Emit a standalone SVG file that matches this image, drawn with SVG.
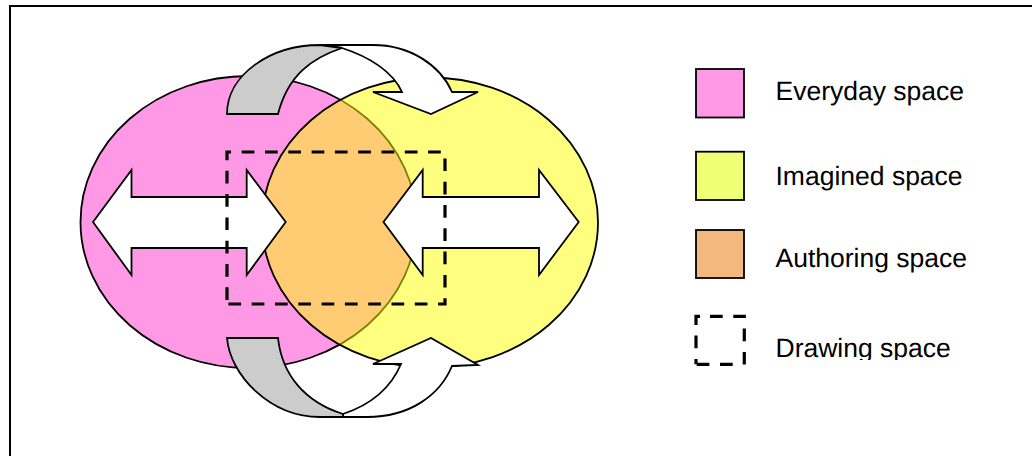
<svg xmlns="http://www.w3.org/2000/svg" width="1032" height="456" viewBox="0 0 1032 456">
<defs>
<style>
.o{stroke:#000;stroke-width:1.8;stroke-linejoin:miter}
.d{fill:none;stroke:#000;stroke-width:3.2;stroke-dasharray:12.7 10.6}
.w{fill:#fff}
.g{fill:#ccc}
text{font-family:"Liberation Sans",Arial,sans-serif;font-size:26.5px;fill:#000;text-rendering:geometricPrecision}
</style>
<clipPath id="legendClip"><rect x="770" y="320" width="220" height="40"/></clipPath>
</defs>
<rect width="1032" height="456" fill="#fff"/>
<path id="frame" d="M10,456V6H1032" fill="none" stroke="#000" stroke-width="2"/>
<g id="everyday"><ellipse class="o" cx="248.500" cy="222" rx="168" ry="146" fill="#FF99E6"/></g>
<g id="imagined"><ellipse class="o" cx="430" cy="222.500" rx="168" ry="145" fill="#FFFF00" fill-opacity=".5"/></g>
<g id="connectors">
<path class="o w" d="M320,45H373C410,45 440,65 452,92H478L431,114L373,92H402C393,72 370,57 342,48Z"/>
<path class="o g" d="M227,114C227,75 270,45 320,45L342,48C312,58 288,75 278,114Z"/>
<path class="o w" d="M343,417H367C410,417 440,395 452,366L478,365L431,338L373,364H401C390,390 370,405 343,414Z"/>
<path class="o g" d="M227,338C230,375 270,417 320,417H343V414C305,402 282,375 278,338Z"/>
<path class="o w" d="M93,222L131.500,170V197H246.700V170L285.700,222L246.700,275V248H131.500V275Z"/>
<path class="o w" d="M383.500,222L422.700,170V197H539V170L578.700,222L539,275V248H422.700V275Z"/>
</g>
<g id="drawing">
<path class="d" d="M241.700,152H445V304H227"/>
<path class="d" d="M227,300V152H231"/>
</g>
<g id="legend-everyday"><rect class="o" x="696" y="69" width="48" height="48.500" fill="#FF99E6"/><text x="775.500" y="100">Everyday space</text></g>
<g id="legend-imagined"><rect class="o" x="696" y="151.700" width="48" height="48.300" fill="#F0FF73"/><text x="775.500" y="185">Imagined space</text></g>
<g id="legend-authoring"><rect class="o" x="696" y="230" width="48" height="48" fill="#F2B87E"/><text x="775.500" y="267">Authoring space</text></g>
<g id="legend-drawing">
<path class="d" d="M710,316.300H744.300V366"/>
<path class="d" d="M732.700,364.300H696"/>
<path d="M696,364.300V359" fill="none" stroke="#000" stroke-width="3.200"/>
<path class="d" d="M696,348.300V316.300H700"/>
<text x="775.500" y="357" clip-path="url(#legendClip)">Drawing space</text>
</g>
</svg>
